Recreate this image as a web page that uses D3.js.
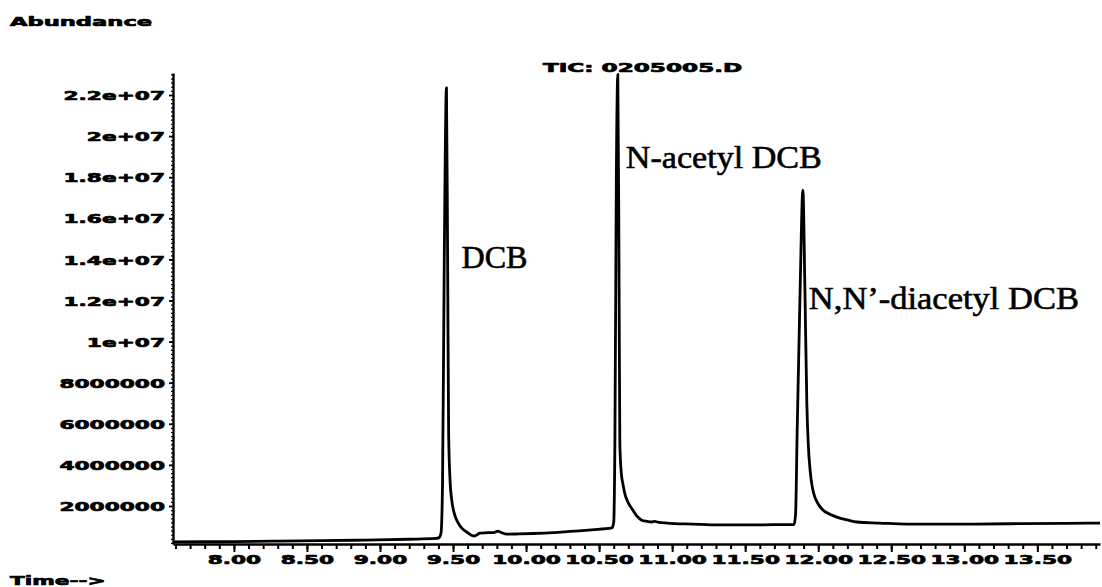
<!DOCTYPE html>
<html>
<head>
<meta charset="utf-8">
<script src="https://cdn.jsdelivr.net/npm/d3@7"></script>
<style>
  html, body { margin: 0; padding: 0; background: #fff; }
  svg { display: block; }
</style>
</head>
<body>
<svg id="chart" width="1102" height="587"></svg>
<script>
// Total ion chromatogram, retention time (min) vs abundance
const retentionTimes = [
  7.583, 7.8, 8.0, 8.3, 8.6, 8.9, 9.2, 9.38, 9.405, 9.418,
  9.428, 9.440, 9.455, 9.463, 9.470, 9.480, 9.491, 9.51, 9.532, 9.56,
  9.594, 9.625, 9.648, 9.665, 9.683, 9.74, 9.785, 9.806, 9.83, 9.868,
  9.95, 10.05, 10.183, 10.3, 10.45, 10.587, 10.600, 10.608, 10.618, 10.628,
  10.636, 10.642, 10.652, 10.665, 10.676, 10.70, 10.731, 10.76, 10.792, 10.83,
  10.86, 10.881, 10.90, 10.964, 11.142, 11.326, 11.5, 11.7, 11.835, 11.845,
  11.856, 11.876, 11.895, 11.909, 11.922, 11.932, 11.945, 11.960, 11.977, 12.0,
  12.032, 12.08, 12.128, 12.2, 12.265, 12.42, 12.607, 12.8, 13.06, 13.4,
  13.7, 13.929
];
const abundance = [
  250000, 260000, 270000, 290000, 310000, 340000, 380000, 420000, 460000, 700000,
  3000000, 14000000, 22350000, 14000000, 5500000, 3200000, 2300000, 1600000, 1220000, 920000,
  730000, 580000, 540000, 600000, 680000, 700000, 720000, 780000, 710000, 630000,
  640000, 660000, 700000, 760000, 840000, 930000, 1200000, 5000000, 18000000, 23000000,
  14000000, 5000000, 3600000, 3000000, 2600000, 2150000, 1800000, 1500000, 1310000, 1250000,
  1220000, 1250000, 1220000, 1170000, 1120000, 1080000, 1080000, 1090000, 1100000, 1600000,
  5700000, 12500000, 17370000, 12500000, 7000000, 5000000, 3700000, 2900000, 2430000, 2100000,
  1800000, 1600000, 1460000, 1320000, 1220000, 1170000, 1120000, 1120000, 1120000, 1140000,
  1150000, 1170000
];

const yTickValues = [2000000, 4000000, 6000000, 8000000, 10000000, 12000000, 14000000, 16000000, 18000000, 20000000, 22000000];
const yTickLabels = ["2000000", "4000000", "6000000", "8000000", "1e+07", "1.2e+07", "1.4e+07", "1.6e+07", "1.8e+07", "2e+07", "2.2e+07"];
const xTickValues = [8.0, 8.5, 9.0, 9.5, 10.0, 10.5, 11.0, 11.5, 12.0, 12.5, 13.0, 13.5];
const xTickLabels = ["8.00", "8.50", "9.00", "9.50", "10.00", "10.50", "11.00", "11.50", "12.00", "12.50", "13.00", "13.50"];

const peakNames = ["DCB", "N-acetyl DCB", "N,N\u2019-diacetyl DCB"];
const peakTimes = [9.455, 10.628, 11.895];

const svg = d3.select("#chart");
const plotLeft = 173, plotRight = 1100, plotTop = 73, plotBottom = 544;

const x = d3.scaleLinear().domain([7.583, 13.929]).range([plotLeft, plotRight]);
const y = d3.scaleLinear().domain([150000, 23070000]).range([plotBottom, plotTop]);

// wide, heavy instrument-style lettering
const stretch = 1.67;
const blockFont = "'DejaVu Sans', sans-serif";

function wideText(sel) {
  sel.attr("font-family", blockFont)
     .attr("font-weight", "bold")
     .attr("font-size", 13)
     .attr("fill", "#000")
     .attr("stroke", "#000")
     .attr("stroke-width", 0.7)
     .attr("stroke-linejoin", "round");
}

// minor ticks on y
svg.append("g")
  .attr("transform", `translate(${plotLeft},0)`)
  .call(d3.axisLeft(y).tickValues(d3.range(1, 116).map(i => i * 200000)).tickSize(2).tickSizeOuter(0).tickFormat(""))
  .call(g => g.select(".domain").remove())
  .call(g => g.selectAll("line").attr("stroke", "#000").attr("stroke-width", 1.2));

// major y axis
const yAxis = svg.append("g")
  .attr("transform", `translate(${plotLeft},0)`)
  .call(d3.axisLeft(y).tickValues(yTickValues).tickFormat((d, i) => yTickLabels[i]).tickSize(4).tickSizeOuter(0));
yAxis.select(".domain").attr("stroke", "#000").attr("stroke-width", 2.4);
yAxis.selectAll(".tick line").attr("stroke", "#000").attr("stroke-width", 1.8);
yAxis.selectAll(".tick text")
  .call(wideText)
  .attr("x", -8 / stretch)
  .attr("dy", "0.36em")
  .attr("transform", `scale(${stretch},1)`);

// minor ticks on x every 0.1 min
svg.append("g")
  .attr("transform", `translate(0,${plotBottom})`)
  .call(d3.axisBottom(x).tickValues(d3.range(76, 140).map(i => i / 10)).tickSize(5).tickSizeOuter(0).tickFormat(""))
  .call(g => g.select(".domain").remove())
  .call(g => g.selectAll("line").attr("stroke", "#000").attr("stroke-width", 2));

// major x axis
const xAxis = svg.append("g")
  .attr("transform", `translate(0,${plotBottom})`)
  .call(d3.axisBottom(x).tickValues(xTickValues).tickFormat((d, i) => xTickLabels[i]).tickSize(8).tickSizeOuter(0));
xAxis.select(".domain").attr("stroke", "#000").attr("stroke-width", 2.4);
xAxis.selectAll(".tick line").attr("stroke", "#000").attr("stroke-width", 2);
xAxis.selectAll(".tick text")
  .call(wideText)
  .attr("y", 20)
  .attr("dy", 0)
  .attr("transform", `scale(${stretch},1)`)
  .attr("text-anchor", "middle");

// trace
const points = retentionTimes.map((t, i) => [t, abundance[i]]);
const line = d3.line()
  .x(d => x(d[0]))
  .y(d => y(d[1]))
  .curve(d3.curveMonotoneX);

svg.append("path")
  .datum(points)
  .attr("d", line)
  .attr("fill", "none")
  .attr("stroke", "#000")
  .attr("stroke-width", 2.8)
  .attr("stroke-linejoin", "round");

// headings
function wideLabel(txt, px, py, k) {
  svg.append("text")
    .text(txt)
    .call(wideText)
    .attr("x", px / k)
    .attr("y", py)
    .attr("transform", `scale(${k},1)`);
}
wideLabel("Abundance", 10, 26, 1.74);
wideLabel("TIC: 0205005.D", 543, 72, 1.78);
wideLabel("Time-->", 10, 585, 1.67);

// peak annotations
const labelOffsets = [[15, 268], [8, 168], [6, 309]];
const labelWidths = [66, 196, 270];
peakNames.forEach((name, i) => {
  svg.append("text")
    .text(name)
    .attr("x", x(peakTimes[i]) + labelOffsets[i][0])
    .attr("y", labelOffsets[i][1])
    .attr("font-family", "'Liberation Serif', 'Times New Roman', serif")
    .attr("font-size", 32)
    .attr("textLength", labelWidths[i])
    .attr("lengthAdjust", "spacingAndGlyphs")
    .attr("fill", "#000")
    .attr("stroke", "#000")
    .attr("stroke-width", 0.6);
});
</script>
</body>
</html>
